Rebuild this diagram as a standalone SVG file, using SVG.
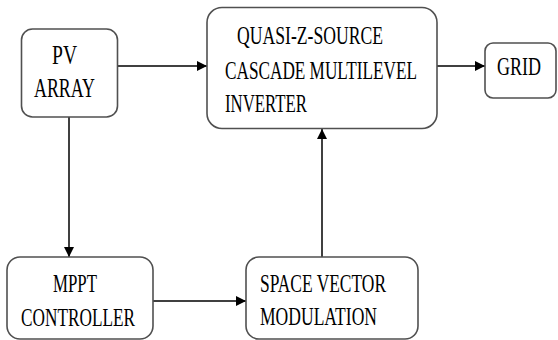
<svg xmlns="http://www.w3.org/2000/svg" width="558" height="340" viewBox="0 0 558 340">
<defs>
<style>
.box{fill:#fff;stroke:#505050;stroke-width:1.6}
.t{font-family:"Liberation Serif","Times New Roman",serif;fill:#000;font-size:25px}
.c{stroke:#000;stroke-width:1.5;fill:none}
</style>
<marker id="ah" viewBox="0 0 10 10" refX="10" refY="5" markerWidth="11" markerHeight="10" markerUnits="userSpaceOnUse" orient="auto">
<path d="M0,0 L10,5 L0,10 z" fill="#000"/>
</marker>
</defs>
<rect width="558" height="340" fill="#fff"/>
<g id="connectors">
<line class="c" x1="118" y1="66" x2="207" y2="66" marker-end="url(#ah)"/>
<line class="c" x1="437" y1="66" x2="485" y2="66" marker-end="url(#ah)"/>
<line class="c" x1="69" y1="117" x2="69" y2="257" marker-end="url(#ah)"/>
<line class="c" x1="153" y1="301" x2="246" y2="301" marker-end="url(#ah)"/>
<line class="c" x1="322" y1="257" x2="322" y2="129" marker-end="url(#ah)"/>
</g>
<g id="pv">
<rect class="box" x="21.5" y="29" width="96" height="88" rx="11"/>
<text class="t" style="font-size:27px" x="52" y="64" textLength="25" lengthAdjust="spacingAndGlyphs">PV</text>
<text class="t" style="font-size:27px" x="34" y="97" textLength="61" lengthAdjust="spacingAndGlyphs">ARRAY</text>
</g>
<g id="qzs">
<rect class="box" x="207" y="7.5" width="230" height="121" rx="15"/>
<text class="t" x="237" y="44" textLength="146" lengthAdjust="spacingAndGlyphs">QUASI-Z-SOURCE</text>
<text class="t" x="225" y="79" textLength="192" lengthAdjust="spacingAndGlyphs">CASCADE MULTILEVEL</text>
<text class="t" x="225" y="112" textLength="82" lengthAdjust="spacingAndGlyphs">INVERTER</text>
</g>
<g id="grid">
<rect class="box" x="485" y="43" width="71" height="55" rx="8"/>
<text class="t" x="497" y="75" textLength="44" lengthAdjust="spacingAndGlyphs">GRID</text>
</g>
<g id="mppt">
<rect class="box" x="7" y="257" width="146" height="82" rx="13"/>
<text class="t" style="font-size:26px" x="53" y="292" textLength="44" lengthAdjust="spacingAndGlyphs">MPPT</text>
<text class="t" style="font-size:26px" x="21" y="326" textLength="114" lengthAdjust="spacingAndGlyphs">CONTROLLER</text>
</g>
<g id="svm">
<rect class="box" x="246" y="257" width="172" height="82" rx="13"/>
<text class="t" style="font-size:26px" x="260" y="292" textLength="126" lengthAdjust="spacingAndGlyphs">SPACE VECTOR</text>
<text class="t" style="font-size:26px" x="260" y="325" textLength="117" lengthAdjust="spacingAndGlyphs">MODULATION</text>
</g>
</svg>
